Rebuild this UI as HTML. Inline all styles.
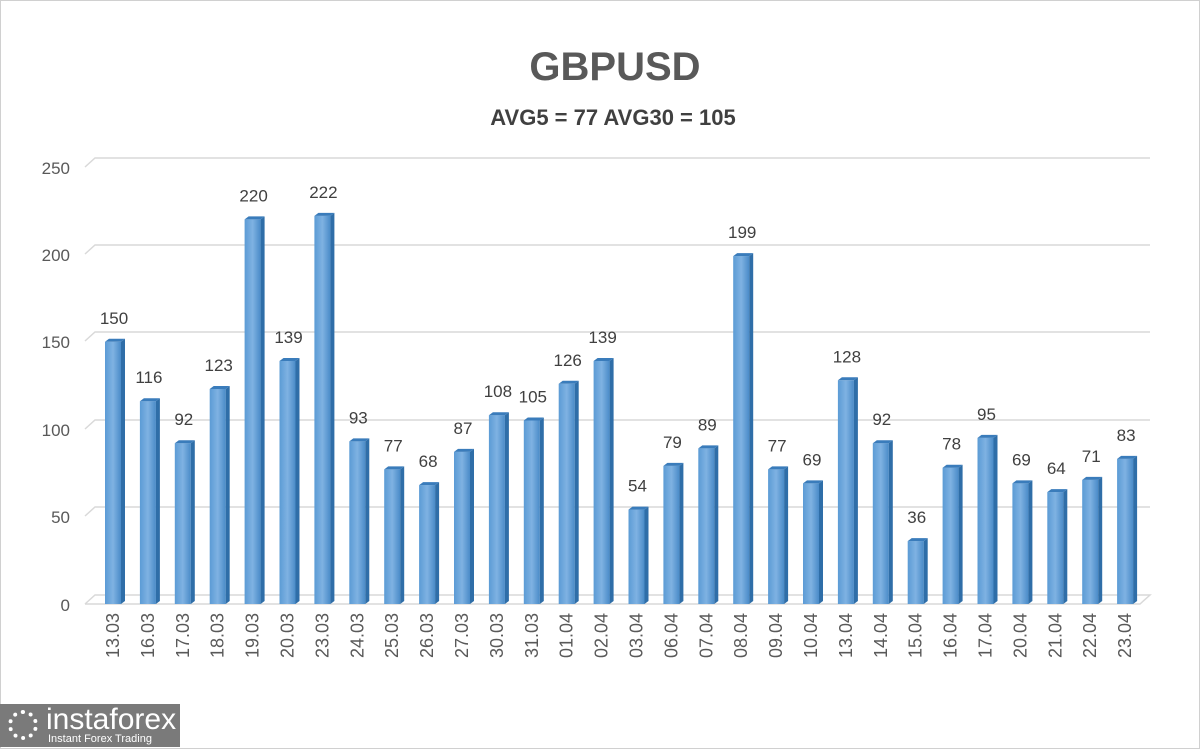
<!DOCTYPE html>
<html><head><meta charset="utf-8"><style>
body{margin:0;background:#fff;}
svg{display:block;font-family:"Liberation Sans",sans-serif;}
.f{fill:url(#g);}
.s{fill:#2f6ea8;}
.t{fill:#3a7cbb;}
.v{font-size:17px;fill:#404040;text-anchor:middle;}
.d{font-size:18px;fill:#595959;text-anchor:end;}
</style></head><body>
<svg width="1200" height="749" viewBox="0 0 1200 749" style="position:absolute;left:0;top:0">
<defs>
<linearGradient id="g" x1="0" x2="1" y1="0" y2="0">
<stop offset="0" stop-color="#5b9bd5"/><stop offset="0.5" stop-color="#7fb2e2"/><stop offset="1" stop-color="#4a8bc8"/>
</linearGradient>
<g id="b"></g>
</defs>
<rect x="0.5" y="0.5" width="1199" height="748" fill="#fff" stroke="#d0d0d0"/>
<text x="615" y="80" text-anchor="middle" font-size="40" font-weight="bold" fill="#595959">GBPUSD</text>
<text x="613" y="125" text-anchor="middle" font-size="22" font-weight="bold" fill="#404040">AVG5 = 77 AVG30 = 105</text>
<g stroke="#d9d9d9" stroke-width="1.5" fill="none">
<path d="M85 167 L95 158 L1150 158"/>
<path d="M85 254 L95 245 L1150 245"/>
<path d="M85 341 L95 332 L1150 332"/>
<path d="M85 429 L95 420 L1150 420"/>
<path d="M85 516 L95 507 L1150 507"/>
<path d="M85 604 L95 595 L1150 595 L1140 604 L85 604"/>
</g>
<g font-size="17" fill="#595959" text-anchor="end">
<text x="70" y="174">250</text><text x="70" y="261">200</text><text x="70" y="348">150</text>
<text x="70" y="436">100</text><text x="70" y="523">50</text><text x="70" y="611">0</text>
</g>
<g transform="translate(113,341.8)"><rect class="f" x="-8" y="0" width="16" height="262.2"/><polygon class="s" points="8,0 12,-3 12,259.2 8,262.2"/><polygon class="t" points="-8,0 -4,-3 12,-3 8,0"/><text class="v" x="1" y="-18">150</text></g>
<g transform="translate(147.9,401.2)"><rect class="f" x="-8" y="0" width="16" height="202.8"/><polygon class="s" points="8,0 12,-3 12,199.8 8,202.8"/><polygon class="t" points="-8,0 -4,-3 12,-3 8,0"/><text class="v" x="1" y="-18">116</text></g>
<g transform="translate(182.8,443.2)"><rect class="f" x="-8" y="0" width="16" height="160.8"/><polygon class="s" points="8,0 12,-3 12,157.8 8,160.8"/><polygon class="t" points="-8,0 -4,-3 12,-3 8,0"/><text class="v" x="1" y="-18">92</text></g>
<g transform="translate(217.7,389)"><rect class="f" x="-8" y="0" width="16" height="215"/><polygon class="s" points="8,0 12,-3 12,212 8,215"/><polygon class="t" points="-8,0 -4,-3 12,-3 8,0"/><text class="v" x="1" y="-18">123</text></g>
<g transform="translate(252.6,219.4)"><rect class="f" x="-8" y="0" width="16" height="384.6"/><polygon class="s" points="8,0 12,-3 12,381.6 8,384.6"/><polygon class="t" points="-8,0 -4,-3 12,-3 8,0"/><text class="v" x="1" y="-18">220</text></g>
<g transform="translate(287.5,361)"><rect class="f" x="-8" y="0" width="16" height="243"/><polygon class="s" points="8,0 12,-3 12,240 8,243"/><polygon class="t" points="-8,0 -4,-3 12,-3 8,0"/><text class="v" x="1" y="-18">139</text></g>
<g transform="translate(322.4,215.9)"><rect class="f" x="-8" y="0" width="16" height="388.1"/><polygon class="s" points="8,0 12,-3 12,385.1 8,388.1"/><polygon class="t" points="-8,0 -4,-3 12,-3 8,0"/><text class="v" x="1" y="-18">222</text></g>
<g transform="translate(357.3,441.4)"><rect class="f" x="-8" y="0" width="16" height="162.6"/><polygon class="s" points="8,0 12,-3 12,159.6 8,162.6"/><polygon class="t" points="-8,0 -4,-3 12,-3 8,0"/><text class="v" x="1" y="-18">93</text></g>
<g transform="translate(392.2,469.4)"><rect class="f" x="-8" y="0" width="16" height="134.6"/><polygon class="s" points="8,0 12,-3 12,131.6 8,134.6"/><polygon class="t" points="-8,0 -4,-3 12,-3 8,0"/><text class="v" x="1" y="-18">77</text></g>
<g transform="translate(427.1,485.1)"><rect class="f" x="-8" y="0" width="16" height="118.9"/><polygon class="s" points="8,0 12,-3 12,115.9 8,118.9"/><polygon class="t" points="-8,0 -4,-3 12,-3 8,0"/><text class="v" x="1" y="-18">68</text></g>
<g transform="translate(462,451.9)"><rect class="f" x="-8" y="0" width="16" height="152.1"/><polygon class="s" points="8,0 12,-3 12,149.1 8,152.1"/><polygon class="t" points="-8,0 -4,-3 12,-3 8,0"/><text class="v" x="1" y="-18">87</text></g>
<g transform="translate(496.9,415.2)"><rect class="f" x="-8" y="0" width="16" height="188.8"/><polygon class="s" points="8,0 12,-3 12,185.8 8,188.8"/><polygon class="t" points="-8,0 -4,-3 12,-3 8,0"/><text class="v" x="1" y="-18">108</text></g>
<g transform="translate(531.8,420.5)"><rect class="f" x="-8" y="0" width="16" height="183.5"/><polygon class="s" points="8,0 12,-3 12,180.5 8,183.5"/><polygon class="t" points="-8,0 -4,-3 12,-3 8,0"/><text class="v" x="1" y="-18">105</text></g>
<g transform="translate(566.7,383.8)"><rect class="f" x="-8" y="0" width="16" height="220.2"/><polygon class="s" points="8,0 12,-3 12,217.2 8,220.2"/><polygon class="t" points="-8,0 -4,-3 12,-3 8,0"/><text class="v" x="1" y="-18">126</text></g>
<g transform="translate(601.6,361)"><rect class="f" x="-8" y="0" width="16" height="243"/><polygon class="s" points="8,0 12,-3 12,240 8,243"/><polygon class="t" points="-8,0 -4,-3 12,-3 8,0"/><text class="v" x="1" y="-18">139</text></g>
<g transform="translate(636.5,509.6)"><rect class="f" x="-8" y="0" width="16" height="94.4"/><polygon class="s" points="8,0 12,-3 12,91.4 8,94.4"/><polygon class="t" points="-8,0 -4,-3 12,-3 8,0"/><text class="v" x="1" y="-18">54</text></g>
<g transform="translate(671.4,465.9)"><rect class="f" x="-8" y="0" width="16" height="138.1"/><polygon class="s" points="8,0 12,-3 12,135.1 8,138.1"/><polygon class="t" points="-8,0 -4,-3 12,-3 8,0"/><text class="v" x="1" y="-18">79</text></g>
<g transform="translate(706.3,448.4)"><rect class="f" x="-8" y="0" width="16" height="155.6"/><polygon class="s" points="8,0 12,-3 12,152.6 8,155.6"/><polygon class="t" points="-8,0 -4,-3 12,-3 8,0"/><text class="v" x="1" y="-18">89</text></g>
<g transform="translate(741.2,256.1)"><rect class="f" x="-8" y="0" width="16" height="347.9"/><polygon class="s" points="8,0 12,-3 12,344.9 8,347.9"/><polygon class="t" points="-8,0 -4,-3 12,-3 8,0"/><text class="v" x="1" y="-18">199</text></g>
<g transform="translate(776.1,469.4)"><rect class="f" x="-8" y="0" width="16" height="134.6"/><polygon class="s" points="8,0 12,-3 12,131.6 8,134.6"/><polygon class="t" points="-8,0 -4,-3 12,-3 8,0"/><text class="v" x="1" y="-18">77</text></g>
<g transform="translate(811,483.4)"><rect class="f" x="-8" y="0" width="16" height="120.6"/><polygon class="s" points="8,0 12,-3 12,117.6 8,120.6"/><polygon class="t" points="-8,0 -4,-3 12,-3 8,0"/><text class="v" x="1" y="-18">69</text></g>
<g transform="translate(845.9,380.3)"><rect class="f" x="-8" y="0" width="16" height="223.7"/><polygon class="s" points="8,0 12,-3 12,220.7 8,223.7"/><polygon class="t" points="-8,0 -4,-3 12,-3 8,0"/><text class="v" x="1" y="-18">128</text></g>
<g transform="translate(880.8,443.2)"><rect class="f" x="-8" y="0" width="16" height="160.8"/><polygon class="s" points="8,0 12,-3 12,157.8 8,160.8"/><polygon class="t" points="-8,0 -4,-3 12,-3 8,0"/><text class="v" x="1" y="-18">92</text></g>
<g transform="translate(915.7,541.1)"><rect class="f" x="-8" y="0" width="16" height="62.9"/><polygon class="s" points="8,0 12,-3 12,59.9 8,62.9"/><polygon class="t" points="-8,0 -4,-3 12,-3 8,0"/><text class="v" x="1" y="-18">36</text></g>
<g transform="translate(950.6,467.7)"><rect class="f" x="-8" y="0" width="16" height="136.3"/><polygon class="s" points="8,0 12,-3 12,133.3 8,136.3"/><polygon class="t" points="-8,0 -4,-3 12,-3 8,0"/><text class="v" x="1" y="-18">78</text></g>
<g transform="translate(985.5,437.9)"><rect class="f" x="-8" y="0" width="16" height="166.1"/><polygon class="s" points="8,0 12,-3 12,163.1 8,166.1"/><polygon class="t" points="-8,0 -4,-3 12,-3 8,0"/><text class="v" x="1" y="-18">95</text></g>
<g transform="translate(1020.4,483.4)"><rect class="f" x="-8" y="0" width="16" height="120.6"/><polygon class="s" points="8,0 12,-3 12,117.6 8,120.6"/><polygon class="t" points="-8,0 -4,-3 12,-3 8,0"/><text class="v" x="1" y="-18">69</text></g>
<g transform="translate(1055.3,492.1)"><rect class="f" x="-8" y="0" width="16" height="111.9"/><polygon class="s" points="8,0 12,-3 12,108.9 8,111.9"/><polygon class="t" points="-8,0 -4,-3 12,-3 8,0"/><text class="v" x="1" y="-18">64</text></g>
<g transform="translate(1090.2,479.9)"><rect class="f" x="-8" y="0" width="16" height="124.1"/><polygon class="s" points="8,0 12,-3 12,121.1 8,124.1"/><polygon class="t" points="-8,0 -4,-3 12,-3 8,0"/><text class="v" x="1" y="-18">71</text></g>
<g transform="translate(1125.1,458.9)"><rect class="f" x="-8" y="0" width="16" height="145.1"/><polygon class="s" points="8,0 12,-3 12,142.1 8,145.1"/><polygon class="t" points="-8,0 -4,-3 12,-3 8,0"/><text class="v" x="1" y="-18">83</text></g>
<g>
<text class="d" transform="translate(119,613) rotate(-90)">13.03</text>
<text class="d" transform="translate(153.9,613) rotate(-90)">16.03</text>
<text class="d" transform="translate(188.8,613) rotate(-90)">17.03</text>
<text class="d" transform="translate(223.7,613) rotate(-90)">18.03</text>
<text class="d" transform="translate(258.6,613) rotate(-90)">19.03</text>
<text class="d" transform="translate(293.5,613) rotate(-90)">20.03</text>
<text class="d" transform="translate(328.4,613) rotate(-90)">23.03</text>
<text class="d" transform="translate(363.3,613) rotate(-90)">24.03</text>
<text class="d" transform="translate(398.2,613) rotate(-90)">25.03</text>
<text class="d" transform="translate(433.1,613) rotate(-90)">26.03</text>
<text class="d" transform="translate(468,613) rotate(-90)">27.03</text>
<text class="d" transform="translate(502.9,613) rotate(-90)">30.03</text>
<text class="d" transform="translate(537.8,613) rotate(-90)">31.03</text>
<text class="d" transform="translate(572.7,613) rotate(-90)">01.04</text>
<text class="d" transform="translate(607.6,613) rotate(-90)">02.04</text>
<text class="d" transform="translate(642.5,613) rotate(-90)">03.04</text>
<text class="d" transform="translate(677.4,613) rotate(-90)">06.04</text>
<text class="d" transform="translate(712.3,613) rotate(-90)">07.04</text>
<text class="d" transform="translate(747.2,613) rotate(-90)">08.04</text>
<text class="d" transform="translate(782.1,613) rotate(-90)">09.04</text>
<text class="d" transform="translate(817,613) rotate(-90)">10.04</text>
<text class="d" transform="translate(851.9,613) rotate(-90)">13.04</text>
<text class="d" transform="translate(886.8,613) rotate(-90)">14.04</text>
<text class="d" transform="translate(921.7,613) rotate(-90)">15.04</text>
<text class="d" transform="translate(956.6,613) rotate(-90)">16.04</text>
<text class="d" transform="translate(991.5,613) rotate(-90)">17.04</text>
<text class="d" transform="translate(1026.4,613) rotate(-90)">20.04</text>
<text class="d" transform="translate(1061.3,613) rotate(-90)">21.04</text>
<text class="d" transform="translate(1096.2,613) rotate(-90)">22.04</text>
<text class="d" transform="translate(1131.1,613) rotate(-90)">23.04</text>
</g>
</svg>
<div style="position:absolute;left:0;top:704px;width:180px;height:43px;background:#7a7a7a;color:#fff;font-family:'Liberation Sans',sans-serif;">
<div style="position:absolute;left:8px;top:6px;width:30px;height:30px;border-radius:50%;border:4px dotted #fff;box-sizing:border-box;"></div>
<div style="position:absolute;left:46px;top:0px;font-size:30px;line-height:32px;">instaforex</div>
<div style="position:absolute;left:48px;top:29px;font-size:11px;">Instant Forex Trading</div>
</div>
</body></html>
